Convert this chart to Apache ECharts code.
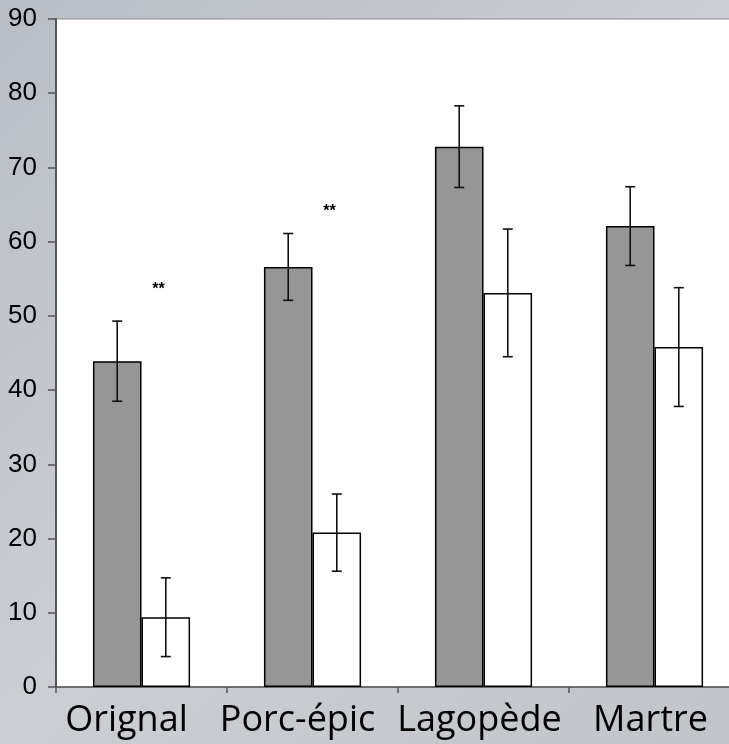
<!DOCTYPE html>
<html>
<head>
<meta charset="utf-8">
<script src="https://cdn.jsdelivr.net/npm/echarts@6/dist/echarts.min.js"></script>
<style>
html,body{margin:0;padding:0;width:729px;height:744px;overflow:hidden;}
#c{width:729px;height:744px;}
</style>
</head>
<body>
<div id="c"></div>
<script>
const categories = ['Orignal', 'Porc-épic', 'Lagopède', 'Martre'];
const greyValues = [43.9, 56.6, 72.8, 62.1];
const greyErr = [5.4, 4.5, 5.5, 5.3];
const whiteValues = [9.4, 20.8, 53.1, 45.8];
const whiteErr = [5.3, 5.2, 8.6, 8.0];
const sigCategories = ['Orignal', 'Porc-épic'];
const sigValues = [53.5, 64.0];
const sigText = ['**', '**'];
const yTicks = [0, 10, 20, 30, 40, 50, 60, 70, 80, 90];

const labelShift = [30, 30, 8, 8];
const BAR_FRAC = 0.284;

function errData(vals, errs) {
  return vals.map((v, i) => [i, v - errs[i], v + errs[i]]);
}
function errRender(side) {
  return function (params, api) {
    const i = api.value(0);
    const lo = api.coord([i, api.value(1)]);
    const hi = api.coord([i, api.value(2)]);
    const cw = api.size([1, 0])[0];
    const x = lo[0] + side * cw * BAR_FRAC / 2;
    const cap = 5;
    const st = { stroke: '#111', lineWidth: 1.6 };
    return {
      type: 'group',
      children: [
        { type: 'line', shape: { x1: x, y1: lo[1], x2: x, y2: hi[1] }, style: st },
        { type: 'line', shape: { x1: x - cap, y1: lo[1], x2: x + cap, y2: lo[1] }, style: st },
        { type: 'line', shape: { x1: x - cap, y1: hi[1], x2: x + cap, y2: hi[1] }, style: st }
      ]
    };
  };
}

const xRich = {};
labelShift.forEach((s, i) => {
  xRich['s' + i] = { fontFamily: 'Open Sans', fontSize: 36, color: '#000', padding: [0, s, 0, 0] };
});

const chart = echarts.init(document.getElementById('c'));
chart.setOption({
  animation: false,
  backgroundColor: {
    type: 'linear', x: 0, y: 0, x2: 1, y2: 1,
    colorStops: [
      { offset: 0, color: '#b9bdc5' },
      { offset: 0.5, color: '#cbced3' },
      { offset: 1, color: '#c1c4c9' }
    ]
  },
  grid: {
    left: 56, top: 19, width: 684, height: 668,
    outerBoundsMode: 'none',
    containLabel: false,
    show: true, backgroundColor: '#ffffff', borderColor: '#8a8a8a', borderWidth: 1
  },
  xAxis: {
    type: 'category',
    data: categories,
    axisLine: { lineStyle: { color: '#555', width: 1.5 } },
    axisTick: { show: true, interval: 0, length: 6, lineStyle: { color: '#555', width: 1.5 } },
    axisLabel: {
      interval: 0,
      margin: 16,
      color: '#000',
      fontFamily: 'Open Sans',
      fontSize: 36,
      formatter: function (v, idx) { return '{s' + idx + '|' + v + '}'; },
      rich: xRich
    },
    splitLine: { show: false }
  },
  yAxis: {
    type: 'value',
    min: yTicks[0],
    max: yTicks[yTicks.length - 1],
    interval: yTicks[1] - yTicks[0],
    axisLine: { show: true, lineStyle: { color: '#555', width: 2 } },
    axisTick: { show: true, length: 8, lineStyle: { color: '#555', width: 1.5 } },
    axisLabel: {
      show: true,
      color: '#000', margin: 19,
      fontFamily: 'Liberation Sans',
      fontSize: 26
    },
    splitLine: { show: false }
  },
  series: [
    {
      type: 'bar', data: greyValues, barWidth: (BAR_FRAC * 100) + '%', barGap: '0%',
      itemStyle: { color: '#969696', borderColor: '#000', borderWidth: 1.5 }
    },
    {
      type: 'bar', data: whiteValues, barWidth: (BAR_FRAC * 100) + '%', barGap: '0%',
      itemStyle: { color: '#ffffff', borderColor: '#000', borderWidth: 1.5 }
    },
    {
      type: 'custom', data: errData(greyValues, greyErr), renderItem: errRender(-1), z: 5
    },
    {
      type: 'custom', data: errData(whiteValues, whiteErr), renderItem: errRender(1), z: 5
    },
    {
      type: 'custom',
      data: sigCategories.map((c, i) => [categories.indexOf(c), sigValues[i], sigText[i]]),
      renderItem: function (params, api) {
        const p = api.coord([api.value(0), api.value(1)]);
        const cw = api.size([1, 0])[0];
        return {
          type: 'text',
          style: {
            text: sigText[params.dataIndex],
            x: p[0] + cw * 0.1, y: p[1],
            align: 'center', verticalAlign: 'middle',
            font: 'bold 16px "Liberation Sans"', fill: '#000'
          }
        };
      },
      z: 6
    }
  ]
});
</script>
</body>
</html>
